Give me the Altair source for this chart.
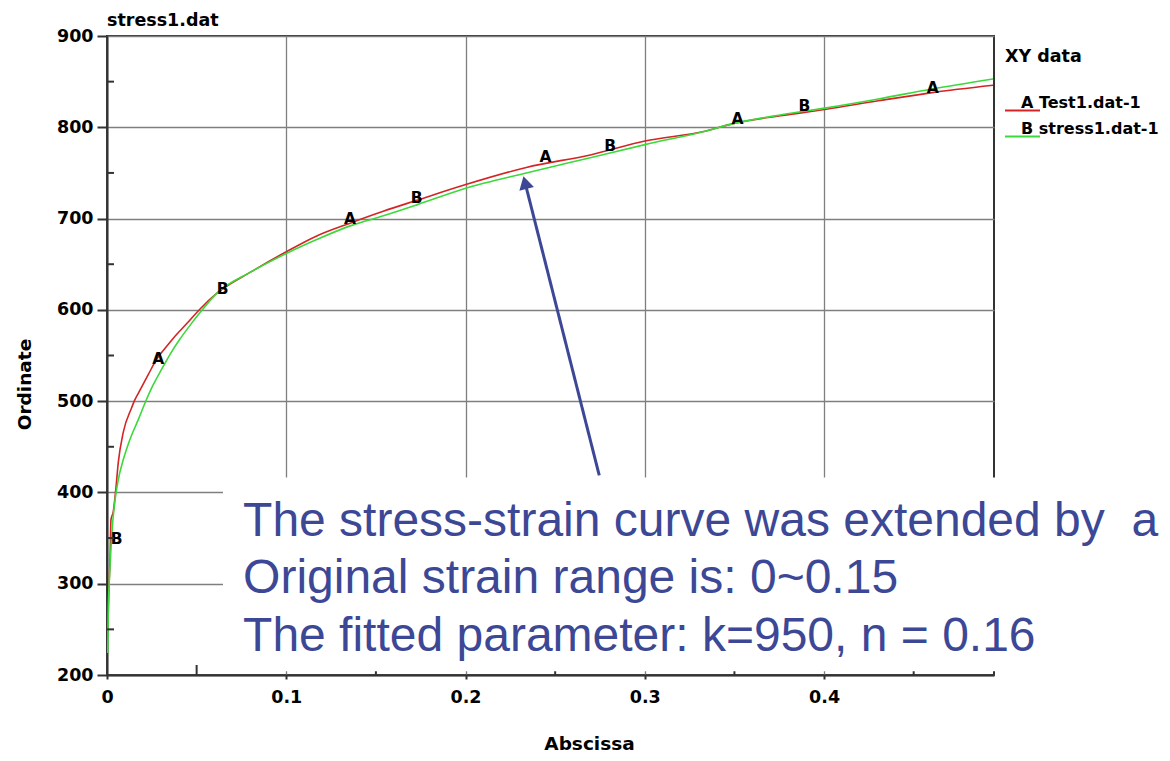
import altair as alt
import pandas as pd

# ---------------- data ----------------
series_names = ["Test1.dat-1", "stress1.dat-1"]

# Curve A : Test1.dat-1 (red)
test_x = [0.0004, 0.0011, 0.0017, 0.0022, 0.0035, 0.0049, 0.0063, 0.0091, 0.0138, 0.0152,
          0.0184, 0.0230, 0.0277, 0.0324, 0.0370, 0.0445, 0.0519, 0.0612, 0.0798, 0.1003,
          0.1170, 0.1356, 0.1541, 0.1728, 0.1997, 0.2339, 0.2702, 0.3001, 0.3342, 0.3492,
          0.3770, 0.4004, 0.4303, 0.4603, 0.4943]
test_y = [247, 297, 327, 370, 379, 403, 433, 466, 493, 500,
          512, 529, 546, 558, 569, 585, 601, 618, 641, 664,
          681, 695, 708, 720, 737, 756, 770, 785, 796, 804,
          813, 819.5, 829, 838, 846]

# Curve B : stress1.dat-1 (green, fitted and extended)
fit_x = [0.0004, 0.0007, 0.0017, 0.0030, 0.0045, 0.0063, 0.0091, 0.0128, 0.0175, 0.0212,
         0.0258, 0.0305, 0.0351, 0.0407, 0.0463, 0.0519, 0.0612, 0.0798, 0.1003, 0.1170,
         0.1356, 0.1541, 0.1728, 0.1997, 0.2339, 0.2702, 0.3001, 0.3342, 0.3492, 0.3770,
         0.4004, 0.4303, 0.4603, 0.4943]
fit_y = [224, 268, 319, 363, 392, 414, 436, 458, 480, 498,
         518, 535, 551, 568, 583, 597, 618, 641, 662, 677,
         692, 703, 715, 733, 750, 767, 781, 796, 804, 814,
         821, 831, 842, 853]

# letter markers on the curves
a_x = [0.0286, 0.1356, 0.2446, 0.3517, 0.4606]
a_y = [546, 700, 767, 809, 843]
b_x = [0.0054, 0.0645, 0.1728, 0.2807, 0.3891]
b_y = [349, 623, 723, 779, 823]

# axis ticks
x_ticks = [0, 0.1, 0.2, 0.3, 0.4]
y_ticks = [200, 300, 400, 500, 600, 700, 800, 900]
x_minor = [0.05, 0.15, 0.25, 0.35, 0.45]
y_minor = [250, 350, 450, 550, 650, 750, 850]

# annotation
note_lines = ["The stress-strain curve was extended by\u00a0 a",
              "Original strain range is: 0~0.15",
              "The fitted parameter: k=950, n = 0.16"]
note_x = [0.0759, 0.0759, 0.0759]
note_y = [352, 289.3, 226.8]
box_x, box_x2, box_y, box_y2 = [0.0647], [0.60], [416.4], [204]
arrow_x, arrow_y, arrow_x2, arrow_y2 = [0.2746], [418.6], [0.2332], [739.5]

# ---------------- styling ----------------
RED = "#d42424"
GREEN = "#3ada3a"
BLUE = "#3c4896"
DARK = "#333333"
FONT = "DejaVu Sans"
NOTE_FONT = "Liberation Sans"
W, H = 887, 639

curves = pd.DataFrame({
    "series": [series_names[0]] * len(test_x) + [series_names[1]] * len(fit_x),
    "x": test_x + fit_x,
    "y": test_y + fit_y,
})
letters = pd.DataFrame({
    "letter": ["A"] * len(a_x) + ["B"] * len(b_x),
    "x": a_x + b_x,
    "y": a_y + b_y,
})
notes = pd.DataFrame({"text": note_lines, "x": note_x, "y": note_y})
box = pd.DataFrame({"x": box_x, "x2": box_x2, "y": box_y, "y2": box_y2})
arrow = pd.DataFrame({"x": arrow_x, "y": arrow_y, "x2": arrow_x2, "y2": arrow_y2})
xm = pd.DataFrame({"x": x_minor})
ym = pd.DataFrame({"y": y_minor})

xs = alt.Scale(domain=[0, 0.4948], nice=False, zero=False)
ys = alt.Scale(domain=[200, 900], nice=False, zero=False)

x_axis = alt.Axis(values=x_ticks, format=".1~f", tickSize=4, labelPadding=9,
                  title="Abscissa", titleX=482, titleY=68, titleBaseline="middle",
                  titleAlign="center", grid=True)
y_axis = alt.Axis(values=y_ticks, format="d", tickSize=10, labelPadding=4,
                  title="Ordinate", titleX=-83, titleY=348, titleAngle=270,
                  titleBaseline="middle", titleAlign="center", grid=True)

legend = alt.Legend(
    title="XY data", orient="none", legendX=898, legendY=11.5,
    symbolType="M-1.6,1.5H5.4", symbolSize=100, symbolStrokeWidth=2,
    labelOffset=0,
    labelExpr="datum.label == 'Test1.dat-1' ? 'A Test1.dat-1' : 'B stress1.dat-1'",
    titleFont=FONT, titleFontSize=17.5, titleFontWeight="bold", titleColor="black",
    labelFont=FONT, labelFontSize=16, labelFontWeight="bold", labelColor="black",
    titlePadding=30, rowPadding=6, padding=0,
)

lines = alt.Chart(curves).mark_line(strokeWidth=1.6, clip=True, interpolate="monotone").encode(
    x=alt.X("x:Q", scale=xs, axis=x_axis, title="Abscissa"),
    y=alt.Y("y:Q", scale=ys, axis=y_axis, title="Ordinate"),
    color=alt.Color("series:N", scale=alt.Scale(domain=series_names, range=[RED, GREEN]),
                    legend=legend),
)

marks = alt.Chart(letters).mark_text(font=FONT, fontSize=15.5, fontWeight="bold",
                                     color="black", baseline="middle", align="center").encode(
    x=alt.X("x:Q", scale=xs, title="Abscissa"),
    y=alt.Y("y:Q", scale=ys, title="Ordinate"),
    text="letter:N",
)

ytick_minor = alt.Chart(ym).mark_rule(color=DARK, strokeWidth=2).encode(
    y=alt.Y("y:Q", scale=ys, title="Ordinate"), x=alt.value(0), x2=alt.value(7))
xtick_minor = alt.Chart(xm).mark_rule(color=DARK, strokeWidth=2).encode(
    x=alt.X("x:Q", scale=xs, title="Abscissa"), y=alt.value(H), y2=alt.value(H - 10))

white_box = alt.Chart(box).mark_rect(fill="white").encode(
    x=alt.X("x:Q", scale=xs, title="Abscissa"), x2="x2:Q",
    y=alt.Y("y:Q", scale=ys, title="Ordinate"), y2="y2:Q")

note_text = alt.Chart(notes).mark_text(font=NOTE_FONT, fontSize=48, color=BLUE,
                                       align="left", baseline="alphabetic").encode(
    x=alt.X("x:Q", scale=xs, title="Abscissa"),
    y=alt.Y("y:Q", scale=ys, title="Ordinate"),
    text="text:N",
)

shaft = alt.Chart(arrow).mark_rule(color=BLUE, strokeWidth=3).encode(
    x=alt.X("x:Q", scale=xs, title="Abscissa"), x2="x2:Q",
    y=alt.Y("y:Q", scale=ys, title="Ordinate"), y2="y2:Q")

head = alt.Chart(arrow).mark_point(shape="triangle-up", filled=True, size=225,
                                   angle=345.8, color=BLUE, opacity=1).encode(
    x=alt.X("x2:Q", scale=xs, title="Abscissa"),
    y=alt.Y("y2:Q", scale=ys, title="Ordinate"),
)

chart = alt.layer(
    lines, marks, ytick_minor, xtick_minor, white_box, note_text, shaft, head
).properties(
    width=W, height=H,
    title=alt.TitleParams("stress1.dat", anchor="start", frame="group", font=FONT,
                          fontSize=17.5, fontWeight="bold", color="black", offset=2, dy=4),
    autosize=alt.AutoSizeParams(type="none"),
    padding={"left": 99, "top": 28, "right": 168, "bottom": 78},
).configure_view(
    stroke=DARK, strokeWidth=2
).configure_axis(
    labelFont=FONT, labelFontSize=17.5, labelFontWeight="bold", labelColor="black",
    titleFont=FONT, titleFontSize=18.5, titleFontWeight="bold", titleColor="black",
    domainColor=DARK, domainWidth=2, tickColor=DARK, tickWidth=2,
    gridColor="#7f7f7f", gridWidth=1.3, gridOpacity=1, labelFlush=False,
)

chart.save("out.html", embed_options={"renderer": "svg", "actions": False})
